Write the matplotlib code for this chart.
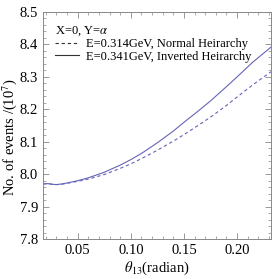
import numpy as np
import matplotlib
matplotlib.use('Agg')
import matplotlib.pyplot as plt
from matplotlib.lines import Line2D
from matplotlib.ticker import MultipleLocator

plt.rcParams['font.family'] = ['Liberation Serif', 'DejaVu Serif']
plt.rcParams['mathtext.fontset'] = 'stix'

# theta13 (radian) and number of events (10^7)
theta = [0.0175, 0.022, 0.026, 0.030, 0.035, 0.040, 0.050, 0.060, 0.075, 0.090,
         0.100, 0.110, 0.125, 0.140, 0.150, 0.165, 0.175, 0.190, 0.200, 0.215, 0.232]
ev_ih = [7.970, 7.971, 7.969, 7.968, 7.970, 7.973, 7.980, 7.989, 8.006, 8.028,
         8.045, 8.064, 8.097, 8.133, 8.160, 8.199, 8.226, 8.270, 8.300, 8.346, 8.392]
ev_nh = [7.970, 7.971, 7.969, 7.968, 7.969, 7.972, 7.978, 7.985, 7.999, 8.018,
         8.032, 8.048, 8.074, 8.102, 8.122, 8.154, 8.176, 8.212, 8.238, 8.276, 8.316]

col = '#6464b8'
fig = plt.figure(figsize=(2.73, 2.79), dpi=100)
ax = fig.add_axes([0.157, 0.143, 0.836, 0.814])
ax.plot(theta, ev_nh, '--', color=col, lw=0.8, dashes=(3, 2.5))
ax.plot(theta, ev_ih, '-', color=col, lw=0.8)

ax.set_xlim(0.0172, 0.232)
ax.set_ylim(7.8, 8.5)
ax.xaxis.set_minor_locator(MultipleLocator(0.01))
ax.yaxis.set_minor_locator(MultipleLocator(0.02))
ax.set_xticks([0.05, 0.10, 0.15, 0.20])
ax.set_xticklabels(['0.05', '0.10', '0.15', '0.20'])
ax.set_yticks([7.8, 7.9, 8.0, 8.1, 8.2, 8.3, 8.4, 8.5])
ax.set_yticklabels(['7.8', '7.9', '8.0', '8.1', '8.2', '8.3', '8.4', '8.5'])
ax.tick_params(which='both', direction='in', top=True, right=True, color='#888888',
               labelsize=10.5)
ax.tick_params(which='major', length=4, width=0.6)
ax.tick_params(which='minor', length=2, width=0.5)
for s in ax.spines.values():
    s.set_color('#888888')
    s.set_linewidth(0.7)

ax.set_xlabel(r'$\theta_{13}$(radian)', fontsize=10.5, labelpad=2)
ax.set_ylabel(r'No. of events /(10$^7$)', fontsize=10.5)
ax.yaxis.set_label_coords(-0.105, 0.45)

handles = [Line2D([], [], ls='--', color='#333333', lw=0.8, dashes=(3, 2.5)),
           Line2D([], [], ls='-', color='#333333', lw=0.8)]
leg = ax.legend(handles, ['E=0.314GeV, Normal Heirarchy', 'E=0.341GeV, Inverted Heirarchy'],
                title=r'X=0, Y=$\alpha$', loc='upper left', bbox_to_anchor=(0.02, 0.98),
                frameon=False, fontsize=9, title_fontsize=9, handlelength=1.9,
                handletextpad=0.6, labelspacing=0.05, borderpad=0.1, alignment='left')

fig.savefig('out.png', dpi=100)
